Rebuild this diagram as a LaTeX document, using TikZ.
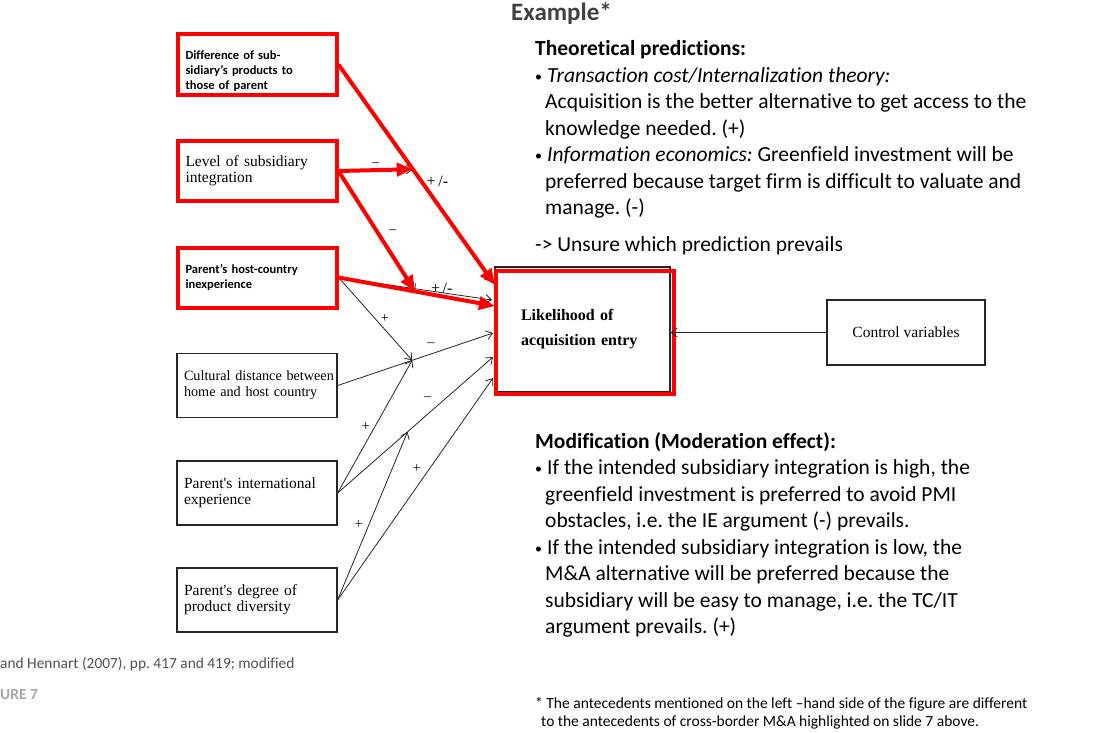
\documentclass[tikz,border=0pt]{standalone}
\usepackage{fontspec}
\setmainfont{Liberation Serif}
\newfontfamily\calibri[Ligatures={NoCommon}]{Carlito}
\usepackage{xcolor}
\usetikzlibrary{arrows.meta,calc}
\definecolor{hlred}{RGB}{255,0,0}
\definecolor{headgray}{RGB}{64,64,64}
\definecolor{srcgray}{RGB}{80,80,80}
\definecolor{figgray}{RGB}{166,166,166}
\newcommand{\dotitem}{\makebox[12pt][l]{\raisebox{1pt}{\fontsize{14}{14}\selectfont•}}}
\frenchspacing

\begin{document}
\begin{tikzpicture}[x=1pt, y=-1pt,
  factor/.style={draw=black!85, line width=1.2pt, minimum width=160pt, minimum height=64pt,
                 text width=146pt, inner xsep=7pt, align=left,
                 font=\fontsize{15.5}{16}\selectfont},
  hlfactor/.style={factor, draw=hlred, line width=4pt, minimum width=159pt, minimum height=60pt,
                   inner xsep=8pt, text width=143pt},
  sansbold/.style={font=\calibri\bfseries\fontsize{12.5}{15}\selectfont},
  plainbox/.style={draw=black!85, line width=1.2pt, align=left},
  arr/.style={draw=black!85, line width=0.8pt, -{Straight Barb[length=6pt, width=9pt]}},
  hlarr/.style={draw=hlred, line width=4pt, -{Triangle[length=16pt, width=13pt]}},
  sign/.style={font=\fontsize{14}{14}\selectfont, inner sep=1pt},
  plusminus/.style={font=\fontsize{16}{16}\selectfont, inner sep=1pt},
  slide/.style={font=\calibri\fontsize{21.5}{26.5}\selectfont, align=left, anchor=base west, inner sep=0pt}
]
  \useasboundingbox (0,0) rectangle (1107,732);

  % Antecedents
  \node[hlfactor, sansbold] (diff)  at (257,64.5) {\rule{0pt}{22pt}Difference of sub-\\sidiary’s products to\\those of parent};
  \node[hlfactor]           (level) at (257,171)  {Level of subsidiary\\integration};
  \node[hlfactor, sansbold] (host)  at (257,277.5) {Parent’s host-country\\inexperience};
  \node[factor, font=\fontsize{14.2}{16}\selectfont] (cult) at (257,385.5)
    {\mbox{Cultural distance between}\\home and host country};
  \node[factor] (intl) at (257,493) {Parent\textquotesingle s international\\experience};
  \node[factor] (div)  at (257,600) {Parent\textquotesingle s degree of\\product diversity};

  % Dependent variable and controls
  \node[plainbox, minimum width=175pt, minimum height=125pt, text width=123pt, inner xsep=26pt,
        font=\bfseries\fontsize{16}{25}\selectfont] (entry) at (582.5,329.5) {Likelihood of\\acquisition entry};
  \draw[hlred, line width=4pt] ($(entry.north west)+(2,5)$) rectangle ($(entry.south east)+(3,1)$);
  \node[plainbox, minimum width=158pt, minimum height=65pt, align=center,
        font=\fontsize{15.5}{16}\selectfont] (ctrl) at (906,332.5) {Control variables};

  % Ends of the arrows
  \coordinate (in1) at (492,282);
  \coordinate (in2) at (492,300);
  \coordinate (in3) at (493,333);
  \coordinate (in4) at (493,357);
  \coordinate (in5) at (493,378);
  \coordinate (hin1) at (495,285);
  \coordinate (hin2) at (495,306);
  \path (diff.east) -- (hin1) coordinate[pos=.475] (mDiff);
  \path (host.east) -- (hin2) coordinate[pos=.49] (mHost);
  \path (cult.east) -- (in3) coordinate[pos=.48] (mCult);
  \path (intl.east) -- (in4) coordinate[pos=.45] (mIntl);

  % Original connectors
  \draw[arr, yshift=2pt]  (level.east) -- (mDiff) node[sign, pos=.5, above=2pt] {–};
  \draw[arr, xshift=-3pt] (level.east) -- (mHost) node[sign, pos=.5, right=11pt] {–};
  \draw[arr, xshift=-3pt] (diff.east) -- (in1);
  \draw[arr, yshift=3pt]  (host.east) -- (in2);
  \draw[arr] (host.east) -- (mCult) node[sign, pos=.5, right=4pt] {+};
  \draw[arr] (cult.east) -- (in3) node[sign, pos=.6, above=6pt] {–};
  \draw[arr] (intl.east) -- (in4) node[sign, pos=.58, above=12pt] {–};
  \draw[arr] (intl.east) -- (mCult) node[sign, pos=.5, left=4pt] {+};
  \draw[arr] (div.east) -- (mIntl) node[sign, pos=.45, left=5pt] {+};
  \draw[arr] (div.east) -- (in5) node[sign, pos=.59, left=7pt] {+};
  \draw[arr] (ctrl.west) -- (ctrl.west -| entry.east);

  % Highlighted connectors
  \draw[hlarr] (diff.east) -- (hin1) node[plusminus, pos=.53, xshift=16pt] {+\,/-};
  \draw[hlarr] (level.east) -- (mDiff);
  \draw[hlarr] (level.east) -- (mHost);
  \draw[hlarr] (host.east) -- (hin2) node[plusminus, pos=.66, above=0pt] {+\,/-};

  % Slide text
  \node[slide, font=\calibri\bfseries\fontsize{25}{28}\selectfont, text=headgray]
    (title) at (511,20) {Example*};
  \node[slide] (theory) at (535,214.5) {\textbf{Theoretical predictions:}\\
    \dotitem\textit{Transaction cost/Internalization theory:}\\
    \hspace*{10pt}Acquisition is the better alternative to get access to the\\
    \hspace*{10pt}knowledge needed. (+)\\
    \dotitem\textit{Information economics:} Greenfield investment will be\\
    \hspace*{10pt}preferred because target firm is difficult to valuate and\\
    \hspace*{10pt}manage. (-)};
  \node[slide] (unsure) at (535,251) {-> Unsure which prediction prevails};
  \node[slide] (modif) at (535,633.5) {\textbf{Modification (Moderation effect):}\\
    \dotitem If the intended subsidiary integration is high, the\\
    \hspace*{10pt}greenfield investment is preferred to avoid PMI\\
    \hspace*{10pt}obstacles, i.e. the IE argument (-) prevails.\\
    \dotitem If the intended subsidiary integration is low, the\\
    \hspace*{10pt}M\&A alternative will be preferred because the\\
    \hspace*{10pt}subsidiary will be easy to manage, i.e. the TC/IT\\
    \hspace*{10pt}argument prevails. (+)};
  \node[slide, font=\calibri\fontsize{15.5}{18}\selectfont] (note) at (535,726)
    {* The antecedents mentioned on the left –hand side of the figure are different\\
     \hspace*{6pt}to the antecedents of cross-border M\&A highlighted on slide 7 above.};
  \node[slide, font=\calibri\fontsize{15.4}{18}\selectfont, text=srcgray] (source)
    at (0,668) {and Hennart (2007), pp. 417 and 419; modified};
  \node[slide, font=\calibri\bfseries\fontsize{15.5}{20}\selectfont, text=figgray] (fig)
    at (0,699) {URE 7};
\end{tikzpicture}
\end{document}
